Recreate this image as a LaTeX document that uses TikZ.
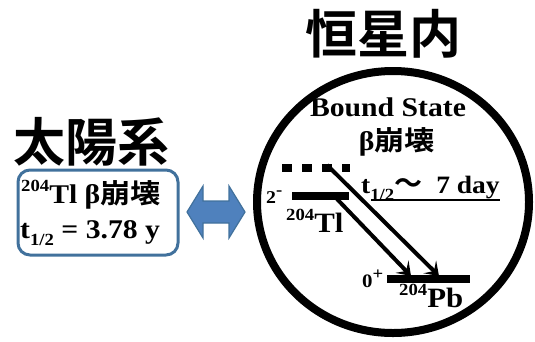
\documentclass[tikz,border=0pt]{standalone}
\usepackage{fontspec}
\usetikzlibrary{arrows.meta,shapes.geometric}
\setmainfont{Liberation Serif}[FakeStretch=1.1]
\newfontfamily\cjk{Noto Sans CJK JP}[BoldFont={Noto Sans CJK JP Bold}]
\newfontfamily\cjkw{Noto Sans CJK JP}[FakeStretch=1.12,BoldFont={Noto Sans CJK JP Bold}]
\newcommand\mysub[1]{\raisebox{-0.28em}{\fontsize{17}{17}\selectfont #1}}
\newcommand\mysup[1]{\raisebox{0.42em}{\fontsize{17}{17}\selectfont #1}}
\definecolor{boxblue}{RGB}{65,113,156}
\definecolor{arrblue}{RGB}{79,129,189}
\tikzset{
  title/.style={font=\cjk\bfseries\fontsize{52}{52}\selectfont, inner sep=0pt},
  lat/.style={font=\bfseries\fontsize{27}{27}\selectfont, inner sep=0pt},
  small/.style={font=\bfseries\fontsize{18}{18}\selectfont, inner sep=0pt},
  level/.style={line width=8pt},
  decay/.style={line width=4pt, -{Stealth[length=13pt,width=18pt,inset=6pt]}},
}
\begin{document}
\begin{tikzpicture}[x=1pt,y=-1pt]
\useasboundingbox (0,0) rectangle (535,341);
% titles
\node[title] (t1) at (383,34) {恒星内};
\node[title] (t2) at (91,142) {太陽系};
% star circle
\node[draw, ellipse, line width=8pt, minimum width=272pt, minimum height=262pt, inner sep=0pt] (star) at (393,202) {};
% left box
\node[draw=boxblue, line width=3pt, rounded corners=12pt, minimum width=160pt, minimum height=85pt, inner sep=0pt] (box) at (98,212.5) {};
\node[lat, anchor=base west] (b1) at (21,203) {\mysup{204}Tl β{\cjkw\bfseries 崩壊}};
\node[lat, anchor=base west] (b2) at (20,238) {t\mysub{1/2} = 3.78 y};
% double arrow
\filldraw[fill=arrblue, draw=boxblue, line width=1.2pt]
  (187,212) -- (203,186) -- (203,201) -- (229,201) -- (229,186) -- (245,212)
  -- (229,238) -- (229,223) -- (203,223) -- (203,238) -- cycle;
% inside star
\node[lat, anchor=base] (bs) at (388,116) {Bound State};
\node[lat, anchor=base] (bb) at (397,150) {β{\cjkw\bfseries 崩壊}};
% levels
\coordinate (dl) at (282,167.5);
\coordinate (dr) at (350,167.5);
\draw[level, dash pattern=on 10pt off 10pt] (dl) -- (dr);
\coordinate (tll) at (292,196);
\coordinate (tlr) at (349,196);
\draw[level] (tll) -- (tlr);
\coordinate (pbl) at (387,279);
\coordinate (pbr) at (470,279);
\draw[level] (pbl) -- (pbr);
% labels
\node[small, anchor=base west] (spin1) at (266,203) {2\mysup{-}};
\node[lat, anchor=base west, font=\bfseries\fontsize{28}{28}\selectfont] (tl) at (286,232) {\mysup{204}Tl};
\node[small, anchor=base west, font=\bfseries\fontsize{19}{19}\selectfont] (spin2) at (362,287) {0\mysup{+}};
\node[lat, anchor=base west, font=\bfseries\fontsize{28}{28}\selectfont] (pb) at (399,307) {\mysup{204}Pb};
\node[lat, anchor=base west, font=\bfseries\fontsize{25}{25}\selectfont] (hl) at (361,193) {t\mysub{1/2}{\cjk\fontsize{28}{28}\selectfont ～}\hspace{14pt}7 day};
\draw[line width=1.3pt] ([xshift=10pt,yshift=-7pt]hl.base west) -- ([yshift=-7pt]hl.base east);
% decay arrows
\coordinate (a1s) at (337,199);
\coordinate (a1e) at (411,276);
\coordinate (a2s) at (327,165);
\coordinate (a2e) at (439,276);
\draw[decay] (a1s) -- (a1e);
\draw[decay] (a2s) -- (a2e);
\end{tikzpicture}
\end{document}
